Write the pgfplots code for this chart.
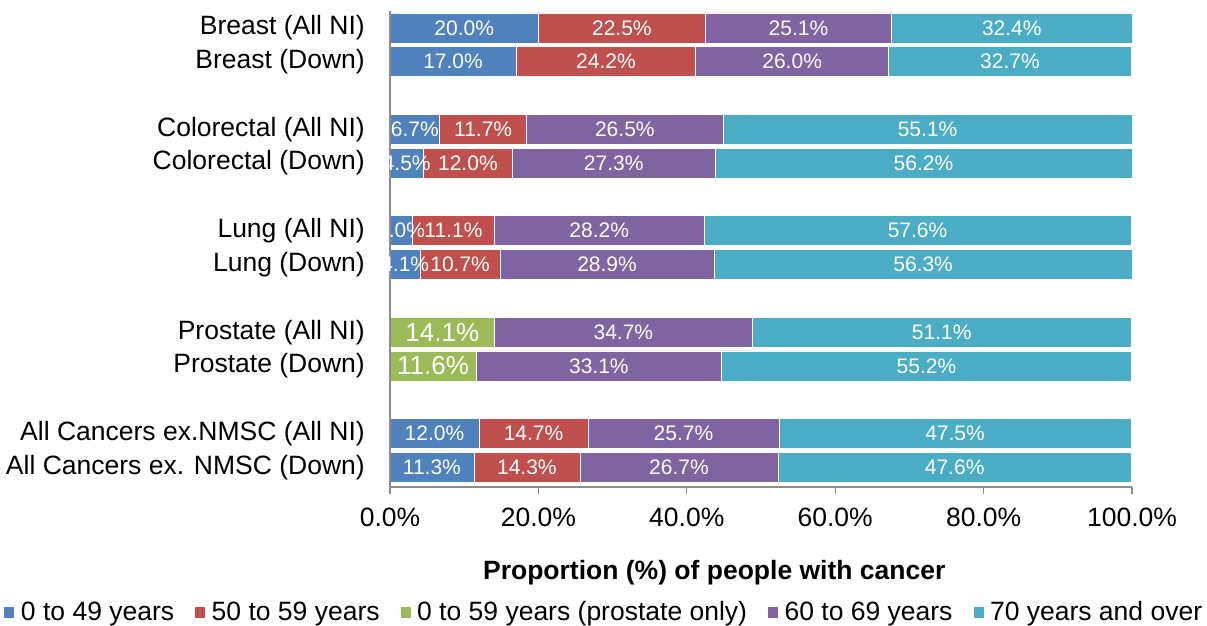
\documentclass[border=0pt]{standalone}
\usepackage{pgfplots}
\usepackage{pgfplotstable}
\usepackage{fontspec}
\setmainfont{Liberation Sans}
\pgfplotsset{compat=1.18}
\definecolor{cA}{HTML}{4F81BD}
\definecolor{cB}{HTML}{C0504D}
\definecolor{cG}{HTML}{9BBB59}
\definecolor{cC}{HTML}{8064A2}
\definecolor{cD}{HTML}{4BACC6}
\pgfplotstableread{
pos a b g c d
13 20.0 22.5 0 25.1 32.4
12 17.0 24.2 0 26.0 32.7
10 6.7 11.7 0 26.5 55.1
9 4.5 12.0 0 27.3 56.2
7 3.0 11.1 0 28.2 57.6
6 4.1 10.7 0 28.9 56.3
4 0 0 14.1 34.7 51.1
3 0 0 11.6 33.1 55.2
1 12.0 14.7 0 25.7 47.5
0 11.3 14.3 0 26.7 47.6
}\data
\begin{document}
\begin{tikzpicture}
\useasboundingbox (0,0) rectangle (1207pt,626pt);
\begin{axis}[
  at={(390pt,139pt)}, anchor=south west,
  scale only axis, width=742pt, height=476pt,
  xbar stacked, bar width=30pt,
  xmin=0, xmax=100, ymin=-0.58, ymax=13.5,
  axis x line*=bottom, axis y line*=left,
  axis line style={draw=gray!90, line width=1.2pt},
  axis on top,
  xtick={0,20,...,100},
  xticklabel={\pgfmathprintnumber[fixed,fixed zerofill,precision=1]{\tick}\%},
  ytick={0,1,3,4,6,7,9,10,12,13},
  yticklabels={All Cancers ex. NMSC (Down),All Cancers ex.NMSC (All NI),Prostate (Down),Prostate (All NI),Lung (Down),Lung (All NI),Colorectal (Down),Colorectal (All NI),Breast (Down),Breast (All NI)},
  tick align=outside,
  major tick length=7pt,
  xtick style={draw=gray!90, line width=1.2pt},
  x tick label style={font=\fontsize{26.5}{30}\selectfont, yshift=-10pt, /pgf/number format/assume math mode=true},
  ytick style={draw=none},
  y tick label style={font=\fontsize{26.5}{30}\selectfont, inner sep=0pt, xshift=-18pt},
  xlabel={\textbf{Proportion (\%) of people with cancer}},
  xlabel style={at={(axis description cs:0.437,-0.18)}, anchor=center, font=\fontsize{26.5}{30}\selectfont},
  point meta=explicit,
  nodes near coords={\pgfmathfloatifflags{\pgfplotspointmeta}{0}{}{\pgfmathprintnumber[fixed,fixed zerofill,precision=1,assume math mode=true]{\pgfplotspointmeta}\%}},
  every node near coord/.append style={font=\fontsize{21}{25}\selectfont, text=white, anchor=center},
  legend style={at={(0.2875,-0.2626)}, anchor=center, draw=none, font=\fontsize{26.5}{30}\selectfont, inner sep=0pt,
    nodes={inner sep=0pt},
    /tikz/every odd column/.append style={column sep=6.5pt},
    /tikz/every even column/.append style={column sep=21pt}},
  legend columns=-1,
  legend image code/.code={\fill[#1,draw=none] (0pt,-6pt) rectangle (10pt,5pt);},
]
\addplot[fill=cA, draw=white, line width=0.6pt] table[x=a,y=pos,meta=a]{\data};
\addplot[fill=cB, draw=white, line width=0.6pt] table[x=b,y=pos,meta=b]{\data};
\addplot[fill=cG, draw=white, line width=0.6pt, every node near coord/.append style={font=\fontsize{26}{30}\selectfont}] table[x=g,y=pos,meta=g]{\data};
\addplot[fill=cC, draw=white, line width=0.6pt] table[x=c,y=pos,meta=c]{\data};
\addplot[fill=cD, draw=white, line width=0.6pt] table[x=d,y=pos,meta=d]{\data};
\legend{0 to 49 years, 50 to 59 years, 0 to 59 years (prostate only), 60 to 69 years, 70 years and over}
\end{axis}
\end{tikzpicture}
\end{document}
